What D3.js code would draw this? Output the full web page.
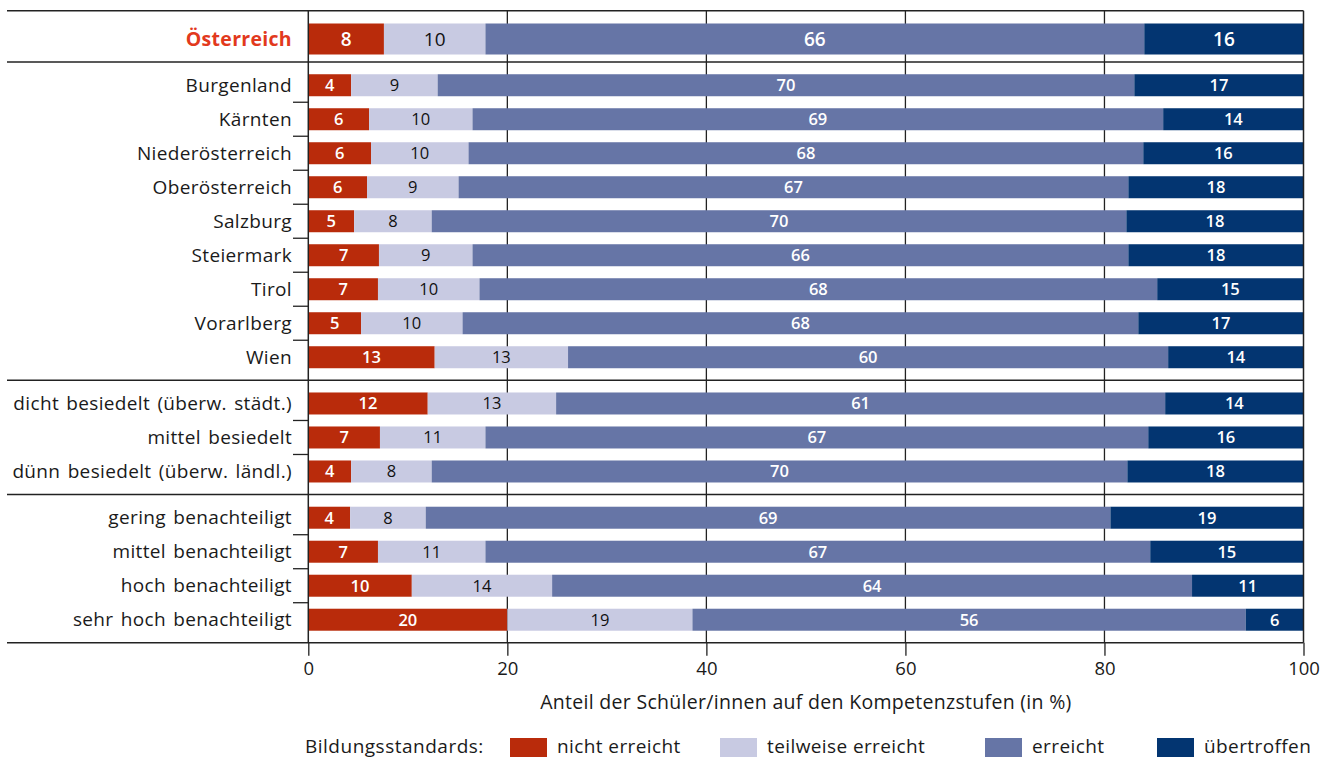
<!DOCTYPE html>
<html>
<head>
<meta charset="utf-8">
<script src="https://cdn.jsdelivr.net/npm/d3@7"></script>
<style>
  body { margin: 0; background: #fff; }
  svg { display: block; font-family: "Open Sans", Lato, sans-serif; }
</style>
</head>
<body>
<svg id="chart" width="1325" height="760"></svg>
<script>
// Rows of the chart, top to bottom, and the block each row belongs to
const categories = [
  "Österreich",
  "Burgenland", "Kärnten", "Niederösterreich", "Oberösterreich", "Salzburg",
  "Steiermark", "Tirol", "Vorarlberg", "Wien",
  "dicht besiedelt (überw. städt.)", "mittel besiedelt", "dünn besiedelt (überw. ländl.)",
  "gering benachteiligt", "mittel benachteiligt", "hoch benachteiligt", "sehr hoch benachteiligt"
];
const blocks = [0, 1, 1, 1, 1, 1, 1, 1, 1, 1, 2, 2, 2, 3, 3, 3, 3];

// Share of pupils per competence level (in %)
const nichtErreicht     = [7.6, 4.3, 6.1, 6.3, 5.9, 4.6, 7.1, 7.0, 5.3, 12.7, 12.0, 7.2, 4.3, 4.2, 7.0, 10.4, 20.0];
const teilweiseErreicht = [10.2, 8.7, 10.4, 9.8, 9.2, 7.8, 9.4, 10.2, 10.2, 13.4, 12.9, 10.6, 8.1, 7.6, 10.8, 14.1, 18.6];
const erreicht          = [66.2, 70.0, 69.4, 67.8, 67.3, 69.8, 65.9, 68.1, 67.9, 60.3, 61.2, 66.6, 69.9, 68.8, 66.8, 64.3, 55.6];
const uebertroffen      = [16.0, 17.0, 14.1, 16.1, 17.6, 17.8, 17.6, 14.7, 16.6, 13.6, 13.9, 15.6, 17.7, 19.4, 15.4, 11.2, 5.8];

const levels = ["nicht erreicht", "teilweise erreicht", "erreicht", "übertroffen"];
const levelKeys = ["nicht", "teilweise", "erreicht", "uebertroffen"];
const levelColors = ["#B92B0B", "#C8CAE2", "#6675A6", "#033571"];
const labelColors = ["#fff", "#111", "#fff", "#fff"];
const xTicks = [0, 20, 40, 60, 80, 100];

const rows = categories.map((c, i) => ({
  name: c,
  block: blocks[i],
  nicht: nichtErreicht[i],
  teilweise: teilweiseErreicht[i],
  erreicht: erreicht[i],
  uebertroffen: uebertroffen[i]
}));

const svg = d3.select("#chart");
const ink = "#222";
const textInk = "#1a1a1a";

// Horizontal scale: percentage
const x = d3.scaleLinear().domain([0, 100]).range([308.3, 1303.5]);

// Vertical scale: row slot, with extra space between blocks
const blockGap = 0.36;
rows.forEach((r, i) => { r.slot = i + r.block * blockGap; });
const y = d3.scaleLinear().domain([0, 1]).range([39, 73]);
const slotTop = -0.83;
const slotBottom = rows[rows.length - 1].slot + 0.68;
const yTop = y(slotTop), yBottom = y(slotBottom);

// Vertical gridlines (behind the bars)
svg.append("g")
  .selectAll("line")
  .data(xTicks.slice(1, -1))
  .join("line")
  .attr("x1", d => x(d)).attr("x2", d => x(d))
  .attr("y1", yTop).attr("y2", yBottom)
  .attr("stroke", ink).attr("stroke-width", 1.3);

// Stacked bars
const stack = d3.stack().keys(levelKeys);
const series = stack(rows);

const barH = r => (r.block === 0 ? 31 : 22);

const layers = svg.append("g")
  .selectAll("g")
  .data(series)
  .join("g")
  .attr("fill", (d, i) => levelColors[i]);

layers.selectAll("rect")
  .data(d => d)
  .join("rect")
  .attr("x", d => x(d[0]))
  .attr("width", d => x(d[1]) - x(d[0]))
  .attr("y", d => y(d.data.slot) - barH(d.data) / 2)
  .attr("height", d => barH(d.data));

// Value labels inside the segments
layers.each(function (s, li) {
  d3.select(this).selectAll("text")
    .data(s)
    .join("text")
    .attr("x", d => (x(d[0]) + x(d[1])) / 2)
    .attr("y", d => y(d.data.slot))
    .attr("dy", "0.36em")
    .attr("text-anchor", "middle")
    .attr("fill", labelColors[li])
    .attr("font-weight", li === 1 ? 400 : 600)
    .attr("font-size", d => (d.data.block === 0 ? 19 : 16.5))
    .text(d => d3.format(".0f")(d[1] - d[0]));
});

// Block separators, frame and baseline
const separatorSlots = [];
for (let i = 1; i < rows.length; i++) {
  if (rows[i].block !== rows[i - 1].block) separatorSlots.push((rows[i].slot + rows[i - 1].slot) / 2);
}
svg.append("g")
  .selectAll("line")
  .data([slotTop, ...separatorSlots, slotBottom])
  .join("line")
  .attr("x1", 7).attr("x2", x(100))
  .attr("y1", d => y(d)).attr("y2", d => y(d))
  .attr("stroke", ink).attr("stroke-width", 1.5);

// Small ticks between rows of the same block
const rowTicks = [];
for (let i = 1; i < rows.length; i++) {
  if (rows[i].block === rows[i - 1].block) rowTicks.push((rows[i].slot + rows[i - 1].slot) / 2);
}
svg.append("g")
  .selectAll("line")
  .data(rowTicks)
  .join("line")
  .attr("x1", 293).attr("x2", x(0))
  .attr("y1", d => y(d)).attr("y2", d => y(d))
  .attr("stroke", ink).attr("stroke-width", 1.3);

// Left axis line and right border
svg.append("line")
  .attr("x1", x(0)).attr("x2", x(0)).attr("y1", yTop).attr("y2", yBottom)
  .attr("stroke", ink).attr("stroke-width", 1.5);
svg.append("line")
  .attr("x1", x(100)).attr("x2", x(100)).attr("y1", yTop).attr("y2", yBottom)
  .attr("stroke", ink).attr("stroke-width", 1.5);

// Category labels
svg.append("g")
  .selectAll("text")
  .data(rows)
  .join("text")
  .attr("x", 292)
  .attr("y", d => y(d.slot))
  .attr("dy", "0.35em")
  .attr("text-anchor", "end")
  .attr("font-size", d => (d.block === 0 ? 19.5 : 19))
  .attr("letter-spacing", d => (d.block === 0 ? 0.3 : 0.35))
  .attr("word-spacing", 2)
  .attr("font-weight", d => (d.block === 0 ? 700 : 400))
  .attr("fill", d => (d.block === 0 ? "#E2391D" : textInk))
  .text(d => d.name);

// Bottom axis
const xAxis = d3.axisBottom(x)
  .tickValues(xTicks)
  .tickSize(13)
  .tickPadding(6)
  .tickFormat(d3.format("d"));
const axisG = svg.append("g")
  .attr("transform", `translate(0,${yBottom})`)
  .call(xAxis);
axisG.select(".domain").remove();
axisG.selectAll(".tick line").attr("stroke", ink).attr("stroke-width", 1.3);
axisG.selectAll(".tick text")
  .attr("font-family", "'Open Sans', Lato, sans-serif")
  .attr("font-size", 18.5)
  .attr("fill", textInk);

svg.append("text")
  .attr("x", (x(0) + x(100)) / 2)
  .attr("y", 709)
  .attr("text-anchor", "middle")
  .attr("font-size", 19.5)
  .attr("letter-spacing", 0.3)
  .attr("fill", textInk)
  .text("Anteil der Schüler/innen auf den Kompetenzstufen (in %)");

// Legend
const legendY = 746;
svg.append("text")
  .attr("x", 305).attr("y", legendY).attr("dy", "0.35em")
  .attr("font-size", 19).attr("letter-spacing", 0.5).attr("fill", textInk)
  .text("Bildungsstandards:");

const legendX = [510, 720, 985, 1157];
const legend = svg.append("g")
  .selectAll("g")
  .data(levels)
  .join("g")
  .attr("transform", (d, i) => `translate(${legendX[i]},${legendY})`);
legend.append("rect")
  .attr("x", 0).attr("y", -8).attr("width", 37).attr("height", 19)
  .attr("fill", (d, i) => levelColors[i]);
legend.append("text")
  .attr("x", 47).attr("y", 0).attr("dy", "0.35em")
  .attr("font-size", 19).attr("letter-spacing", 0.4).attr("fill", textInk)
  .text(d => d);
</script>
</body>
</html>
